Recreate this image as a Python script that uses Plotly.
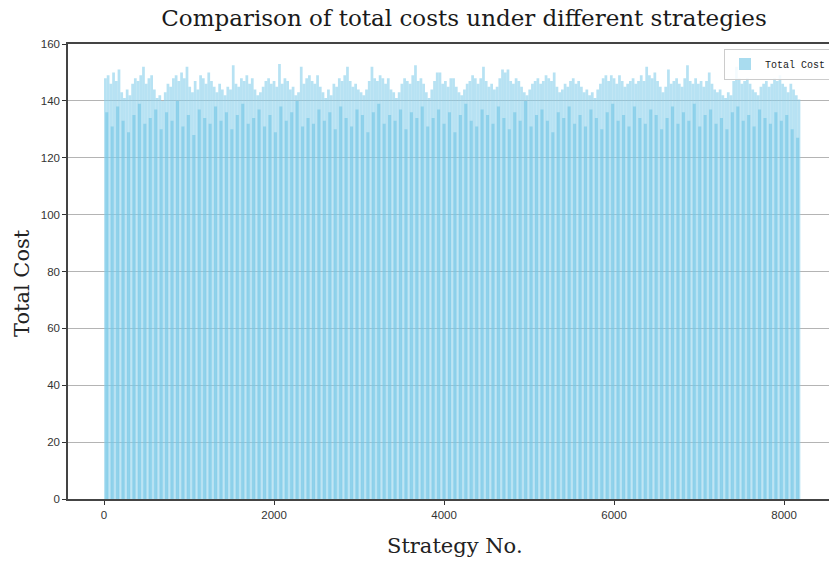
import plotly.graph_objects as go

# Total cost per strategy, summarised in groups of consecutive strategy numbers.
# peak_cost: highest total cost within each group of 32 strategies
peak_group_size = 32
peak_cost = [
    148, 149, 146, 150, 147, 151, 143, 141, 144, 142,
    146, 148, 147, 149, 152, 146, 148, 149, 144, 141,
    142, 140, 143, 146, 145, 148, 149, 147, 150, 148,
    152, 145, 143, 147, 144, 149, 148, 146, 150, 147,
    145, 143, 146, 144, 142, 145, 144, 152.5, 146, 145,
    148, 147, 149, 146, 148, 144, 142, 143, 145, 147,
    148, 146, 147, 145, 153, 146, 148, 147, 144, 145,
    142, 143, 152, 146, 148, 149, 147, 146, 149, 145,
    143, 141, 144, 142, 146, 145, 148, 147, 149, 152,
    147, 145, 146, 144, 143, 142, 144, 147, 152, 148,
    147, 149, 148, 146, 148, 144, 143, 141, 143, 146,
    148, 147, 146, 149, 152.5, 147, 148, 146, 143, 141,
    144, 147, 150, 150, 146, 147, 145, 148, 148, 145,
    143, 142, 144, 146, 147, 149, 148, 146, 148, 152,
    147, 145, 146, 144, 145, 148, 151, 150, 151, 147,
    146, 148, 147, 145, 143, 142, 144, 146, 147, 148,
    146, 147, 149, 148, 147, 150, 145, 143, 144, 146,
    145, 147, 148, 146, 147, 145, 143, 144, 142, 143,
    141, 144, 146, 148, 149, 147, 149, 148, 146, 149,
    147, 145, 146, 147, 148, 146, 147, 149, 147, 152,
    149, 148, 150, 147, 145, 143, 145, 151, 146, 147,
    148, 146, 145, 148, 152.5, 147, 146, 148, 146, 147,
    145, 147, 150, 146, 144, 143, 144, 142, 141, 143,
    142, 147, 152, 148, 146, 147, 148, 146, 144, 143,
    142, 145, 146, 147, 145, 146, 148, 147, 149, 146,
    145, 143, 146, 144, 142, 140.5,
]

# typical_cost: level reached by most strategies within each group of 64
typical_group_size = 64
typical_cost = [
    136, 131, 138, 133, 129, 135, 139, 132, 134, 137,
    130, 136, 133, 140, 131, 135, 128, 137, 134, 132,
    138, 133, 136, 130, 135, 139, 132, 134, 137, 131,
    135, 129, 138, 133, 136, 140, 131, 134, 132, 137,
    133, 136, 130, 138, 134, 131, 137, 135, 129, 136,
    139, 132, 135, 133, 137, 130, 136, 134, 138, 131,
    134, 137, 132, 136, 129, 135, 139, 133, 131, 137,
    135, 132, 138, 134, 130, 136, 133, 140, 131, 135,
    137, 133, 129, 136, 134, 138, 132, 135, 131, 137,
    134, 130, 136, 139, 133, 135, 131, 138, 134, 132,
    137, 135, 130, 134, 138, 132, 136, 133, 139, 131,
    135, 137, 132, 134, 130, 136, 138, 133, 135, 131,
    137, 134, 132, 136, 133, 135, 130, 127,
]

x_ticks = [0, 2000, 4000, 6000, 8000]
y_ticks = [0, 20, 40, 60, 80, 100, 120, 140, 160]

peak_x = [peak_group_size * (i + 0.5) for i in range(len(peak_cost))]
typical_x = [typical_group_size * (i + 0.5) for i in range(len(typical_cost))]

fig = go.Figure()

fig.add_trace(go.Bar(
    x=peak_x,
    y=peak_cost,
    width=peak_group_size,
    marker=dict(color="rgba(135,206,235,0.6)", line=dict(width=0)),
    name="Total Cost (peak)",
    showlegend=False,
    hoverinfo="skip",
))

fig.add_trace(go.Bar(
    x=typical_x,
    y=typical_cost,
    width=typical_group_size * 0.56,
    marker=dict(color="rgba(112,196,228,0.6)", line=dict(width=0)),
    name="Total Cost",
))

fig.update_layout(
    width=829,
    height=561,
    barmode="overlay",
    paper_bgcolor="white",
    plot_bgcolor="white",
    margin=dict(l=68, r=0, t=44, b=62, autoexpand=False),
    title=dict(
        text="Comparison of total costs under different strategies",
        font=dict(family="DejaVu Serif", size=23, color="#1a1a1a"),
        x=464 / 829,
        xanchor="center",
        xref="container",
        y=1 - 18 / 561,
        yanchor="middle",
        yref="container",
    ),
    xaxis=dict(
        range=[-424, 8529],
        tickmode="array",
        tickvals=x_ticks,
        ticktext=[str(v) for v in x_ticks],
        ticks="outside",
        ticklen=4,
        tickcolor="#333333",
        tickfont=dict(family="Liberation Sans", size=11.5, color="#333333"),
        showgrid=False,
        zeroline=False,
        showline=True,
        linecolor="#444444",
        linewidth=1.5,
        mirror=True,
    ),
    yaxis=dict(
        range=[0, 160],
        tickmode="array",
        tickvals=y_ticks,
        ticktext=[str(v) for v in y_ticks],
        ticks="outside",
        ticklen=4,
        tickcolor="#333333",
        tickfont=dict(family="Liberation Sans", size=11.5, color="#333333"),
        showgrid=True,
        gridcolor="#b4b4b4",
        gridwidth=1,
        zeroline=False,
        showline=True,
        linecolor="#444444",
        linewidth=1.5,
    ),
    legend=dict(
        x=(724 - 68) / 761,
        y=0.99,
        xanchor="left",
        yanchor="top",
        bgcolor="rgba(255,255,255,0.85)",
        bordercolor="#cccccc",
        borderwidth=1,
        font=dict(family="Liberation Mono", size=10, color="#222222"),
    ),
    annotations=[
        dict(
            text="Strategy No.",
            xref="paper", yref="paper",
            x=(455 - 68) / 761, y=-(546 - 499) / 455,
            xanchor="center", yanchor="middle",
            showarrow=False,
            font=dict(family="DejaVu Serif", size=21, color="#222222"),
        ),
        dict(
            text="Total Cost",
            xref="paper", yref="paper",
            x=(22 - 68) / 761, y=(499 - 283) / 455,
            xanchor="center", yanchor="middle",
            textangle=-90,
            showarrow=False,
            font=dict(family="DejaVu Serif", size=21, color="#222222"),
        ),
    ],
)

fig.write_html("out.html")
